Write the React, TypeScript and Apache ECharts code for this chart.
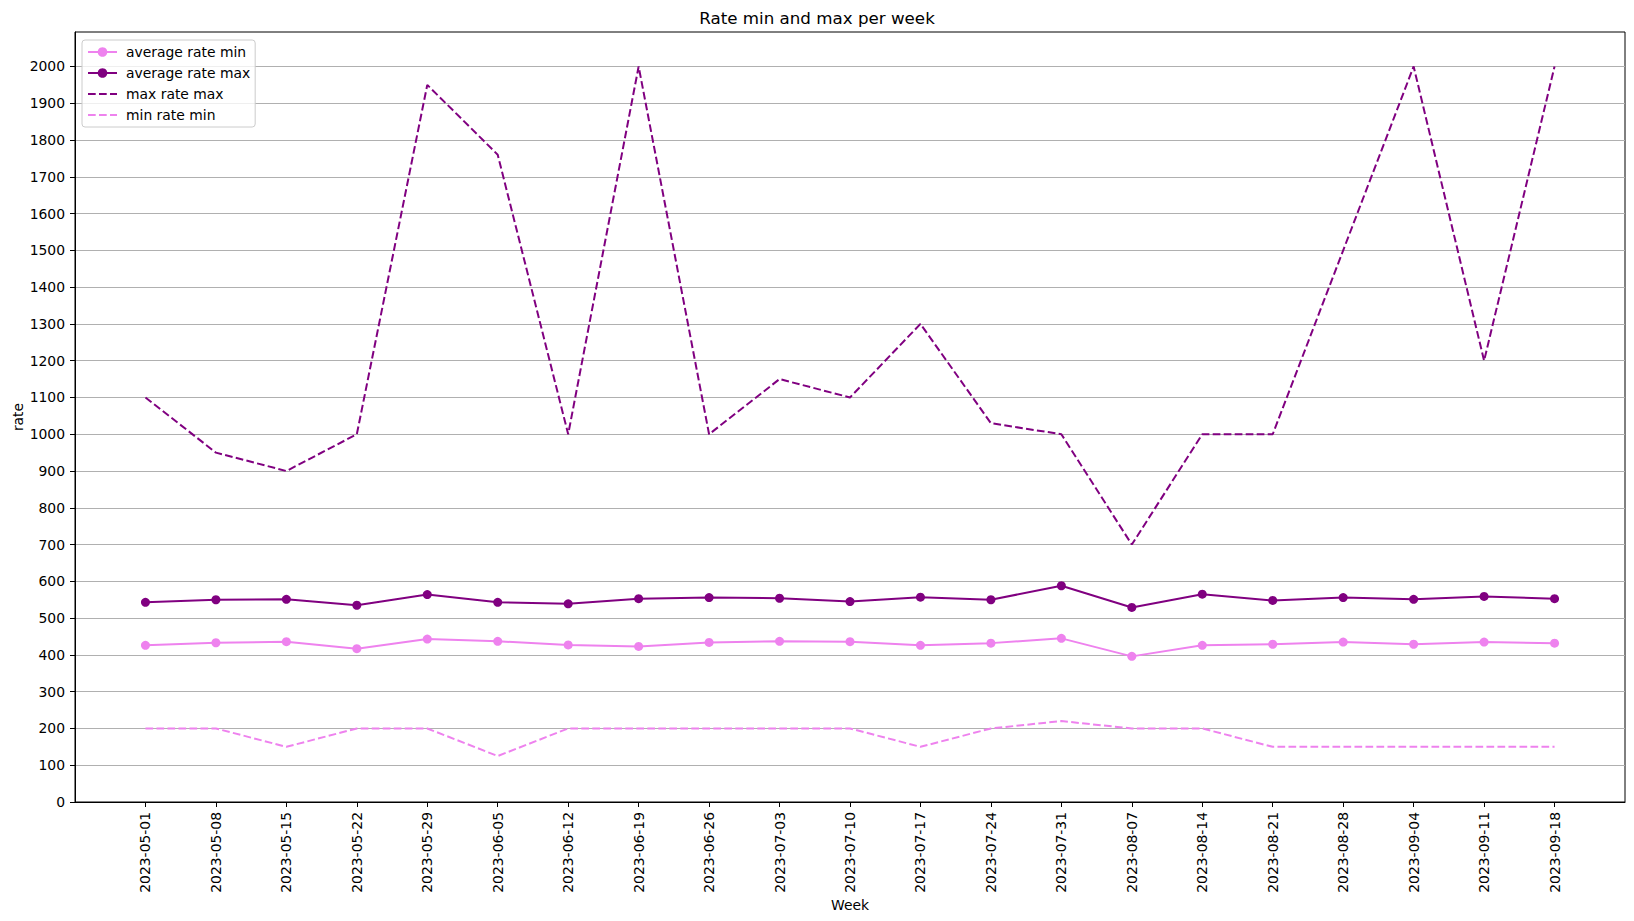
import React, { useEffect, useRef } from "react";
import * as echarts from "echarts";

const weeks: string[] = [
  "2023-05-01", "2023-05-08", "2023-05-15", "2023-05-22", "2023-05-29",
  "2023-06-05", "2023-06-12", "2023-06-19", "2023-06-26", "2023-07-03",
  "2023-07-10", "2023-07-17", "2023-07-24", "2023-07-31", "2023-08-07",
  "2023-08-14", "2023-08-21", "2023-08-28", "2023-09-04", "2023-09-11",
  "2023-09-18",
];

const averageRateMin: number[] = [426, 433, 436, 417, 443, 437, 427, 423, 434, 437, 436, 426, 432, 445, 396, 426, 429, 435, 429, 435, 432];
const averageRateMax: number[] = [543, 550, 551, 535, 564, 543, 539, 553, 556, 554, 545, 557, 550, 588, 529, 565, 548, 556, 551, 559, 553];
const maxRateMax: number[] = [1100, 950, 900, 1000, 1950, 1760, 1000, 2000, 1000, 1150, 1100, 1300, 1030, 1000, 700, 1000, 1000, 1500, 2000, 1200, 2000];
const minRateMin: number[] = [200, 200, 150, 200, 200, 125, 200, 200, 200, 200, 200, 150, 200, 220, 200, 200, 150, 150, 150, 150, 150];

const yTicks: number[] = [0, 100, 200, 300, 400, 500, 600, 700, 800, 900, 1000, 1100, 1200, 1300, 1400, 1500, 1600, 1700, 1800, 1900, 2000];

const VIOLET = "#ee82ee";
const PURPLE = "#800080";
const FONT = "DejaVu Sans";

const pairs = (vals: number[]) => vals.map((v, i) => [i, v]);

export default function App() {
  const ref = useRef<HTMLDivElement>(null);

  useEffect(() => {
    document.body.style.margin = "0";
    const chart = echarts.init(ref.current!, null, { renderer: "svg" });
    const idx = weeks.map((_, i) => i);
    const allVals = [...averageRateMin, ...averageRateMax, ...maxRateMax, ...minRateMin];
    const dMin = Math.min(...allVals);
    const dMax = Math.max(...allVals);
    const yMax = dMax + 0.05 * (dMax - dMin);

    chart.setOption({
      animation: false,
      backgroundColor: "#ffffff",
      textStyle: { fontFamily: FONT },
      title: {
        text: "Rate min and max per week",
        left: "center",
        top: 4,
        textStyle: { fontFamily: FONT, fontSize: 16.7, fontWeight: "normal", color: "#000" },
      },
      legend: {
        orient: "vertical",
        left: 82,
        top: 40,
        itemWidth: 29,
        itemHeight: 12,
        itemGap: 7,
        padding: [5, 5, 5, 5],
        backgroundColor: "rgba(255,255,255,0.8)",
        borderColor: "#cccccc",
        borderWidth: 1,
        borderRadius: 3,
        textStyle: { fontFamily: FONT, fontSize: 13.9, color: "#000", padding: [0, 0, 0, 4] },
        data: [
          { name: "average rate min" },
          { name: "average rate max" },
          { name: "max rate max", itemStyle: { opacity: 0 } },
          { name: "min rate min", itemStyle: { opacity: 0 } },
        ],
      },
      grid: {
        left: 75,
        right: 9,
        top: 32,
        bottom: 119,
        show: true,
        borderColor: "#000",
        borderWidth: 1,
        backgroundColor: "transparent",
        containLabel: false,
        outerBoundsMode: "none",
      },
      xAxis: {
        type: "value",
        min: -1,
        max: weeks.length,
        interval: 1,
        name: "Week",
        nameLocation: "middle",
        nameGap: 96,
        nameMoveOverlap: false,
        nameTextStyle: { fontFamily: FONT, fontSize: 13.9, color: "#000" },
        axisLine: { show: true, onZero: false, lineStyle: { color: "#000", width: 1 } },
        axisTick: { show: true, length: 5, lineStyle: { color: "#000" }, customValues: idx },
        axisLabel: {
          customValues: idx,
          rotate: 90,
          margin: 10,
          fontFamily: FONT,
          fontSize: 13.9,
          color: "#000",
          formatter: (v: number) => (v >= 0 && v < weeks.length ? weeks[Math.round(v)] : ""),
        },
        splitLine: { show: false },
      },
      yAxis: {
        type: "value",
        min: 0,
        max: yMax,
        interval: 100,
        name: "rate",
        nameLocation: "middle",
        nameGap: 50,
        nameMoveOverlap: false,
        nameTextStyle: { fontFamily: FONT, fontSize: 13.9, color: "#000" },
        axisLine: { show: true, onZero: false, lineStyle: { color: "#000", width: 1 } },
        axisTick: { show: true, length: 5, lineStyle: { color: "#000" }, customValues: yTicks },
        axisLabel: {
          customValues: yTicks,
          margin: 10,
          fontFamily: FONT,
          fontSize: 13.9,
          color: "#000",
          formatter: (v: number) => String(v),
        },
        splitLine: { show: true, lineStyle: { color: "#b0b0b0", width: 1.1 } },
      },
      series: [
        {
          name: "average rate min",
          type: "line",
          data: pairs(averageRateMin),
          symbol: "circle",
          symbolSize: 9,
          lineStyle: { color: VIOLET, width: 2 },
          itemStyle: { color: VIOLET },
        },
        {
          name: "average rate max",
          type: "line",
          data: pairs(averageRateMax),
          symbol: "circle",
          symbolSize: 9,
          lineStyle: { color: PURPLE, width: 2 },
          itemStyle: { color: PURPLE },
        },
        {
          name: "max rate max",
          type: "line",
          data: pairs(maxRateMax),
          symbol: "none",
          lineStyle: { color: PURPLE, width: 2, type: [7.7, 3.3] },
          itemStyle: { color: PURPLE },
        },
        {
          name: "min rate min",
          type: "line",
          data: pairs(minRateMin),
          symbol: "none",
          lineStyle: { color: VIOLET, width: 2, type: [7.7, 3.3] },
          itemStyle: { color: VIOLET },
        },
      ],
    });

    return () => chart.dispose();
  }, []);

  return (
    <div
      ref={ref}
      style={{ position: "fixed", left: 0, top: 0, width: 1634, height: 921 }}
    />
  );
}
